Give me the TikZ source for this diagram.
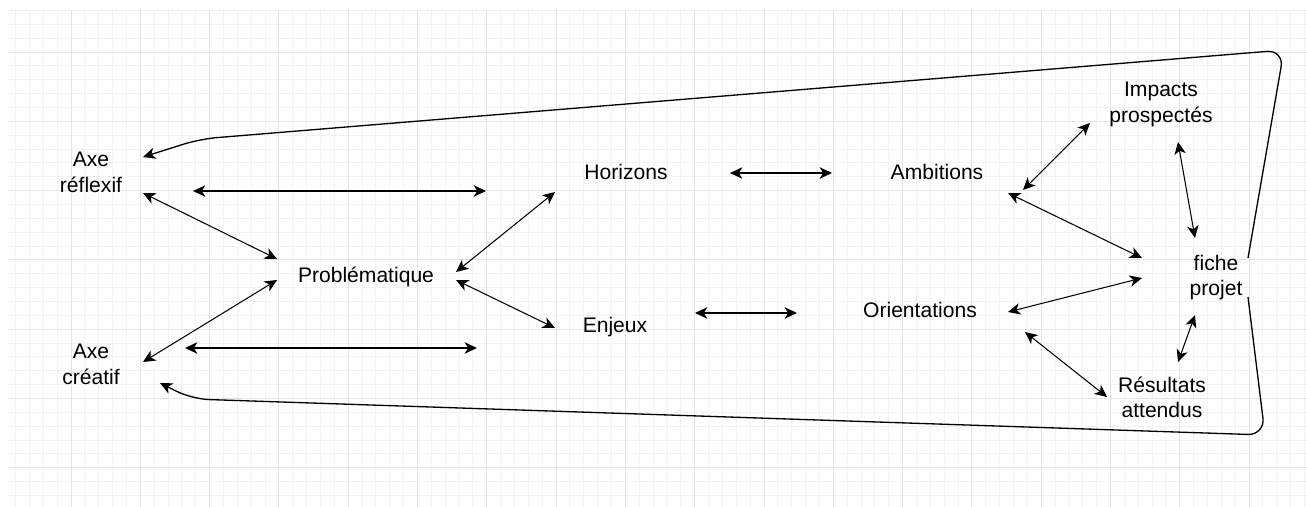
\documentclass[tikz,border=0pt]{standalone}
\usepackage{fontspec}
\setmainfont{Liberation Sans}
\usetikzlibrary{arrows.meta,calc}

\tikzset{
  lbl/.style={font=\fontsize{12}{14.5}\selectfont, align=center, inner sep=0pt, text=black},
  link/.style={<->, >={Stealth[length=7pt,width=6.5pt,inset=2pt]}, line width=0.6pt},
  hlink/.style={link, line width=0.9pt},
  backlink/.style={->, >={Stealth[length=7pt,width=6.5pt,inset=2pt]}, line width=0.75pt},
  minorgrid/.style={line width=0.55pt, draw=black!5},
  majorgrid/.style={line width=0.55pt, draw=black!11}
}

\begin{document}
\begin{tikzpicture}[x=0.02cm,y=-0.02cm]
\useasboundingbox (0,0) rectangle (1306,507);

%Grid background
\begin{scope}
\clip (8,10) rectangle (1306,507);
\foreach \i in {1,...,94} \draw[minorgrid] ({1.7+13.86*\i},10) -- ({1.7+13.86*\i},507);
\foreach \j in {2,...,37} \draw[minorgrid] (8,{-17.3+13.86*\j}) -- (1306,{-17.3+13.86*\j});
\foreach \i in {1,...,18} \draw[majorgrid] ({1.7+69.3*\i},10) -- ({1.7+69.3*\i},507);
\foreach \j in {1,...,7} \draw[majorgrid] (8,{-17.3+69.3*\j}) -- (1306,{-17.3+69.3*\j});
\end{scope}

%Axes
\node[lbl] (axeR) at (91,172.5) {Axe\\réflexif};
\node[lbl] (axeC) at (91,364.5) {Axe\\créatif};

%Problematique
\node[lbl] (prob) at (366,276.5) {Problématique};

%Horizons and Enjeux
\node[lbl] (hor) at (626,172) {Horizons};
\node[lbl] (enj) at (615,327) {Enjeux};

%Ambitions and Orientations
\node[lbl] (amb) at (937,172) {Ambitions};
\node[lbl] (ori) at (920,310) {Orientations};

%Right column
\node[lbl] (imp) at (1161,104.5) {Impacts\\prospectés};
\node[lbl] (fiche) at (1216,277.5) {fiche\\projet};
\node[lbl] (res) at (1162,397.5) {Résultats\\attendus};

%Axes <-> Problematique
\draw[link] ($(axeR)+(52,20.5)$) -- ($(prob)+(-89,-17.5)$);
\draw[link] ($(axeC)+(52,-2.5)$) -- ($(prob)+(-89,3.5)$);

%Long horizontal links
\draw[hlink] ($(axeR)+(102,18.5)$) -- ($(hor)+(-140,19)$);
\draw[hlink] ($(axeC)+(94,-16.5)$) -- ($(enj)+(-138,21)$);

%Problematique <-> Horizons, Enjeux
\draw[link] ($(prob)+(90,-4.5)$) -- ($(hor)+(-71,20)$);
\draw[link] ($(prob)+(90,3.5)$) -- ($(enj)+(-60,1)$);

%Short horizontal links
\draw[hlink] ($(hor)+(104,1)$) -- ($(amb)+(-105,1)$);
\draw[hlink] ($(enj)+(80,-14)$) -- ($(ori)+(-123,3)$);

%Ambitions, Orientations <-> right column
\draw[link] ($(amb)+(86,18)$) -- ($(imp)+(-71,18.5)$);
\draw[link] ($(amb)+(71,21)$) -- ($(fiche)+(-74,-19.5)$);
\draw[link] ($(ori)+(88,2)$) -- ($(fiche)+(-74,0.5)$);
\draw[link] ($(ori)+(105,22)$) -- ($(res)+(-55,-0.5)$);

%Right column links
\draw[link] ($(imp)+(17,37.5)$) -- ($(fiche)+(-21,-39.5)$);
\draw[link] ($(fiche)+(-21,37.5)$) -- ($(res)+(16,-35.5)$);

%Return loops
\draw[backlink,rounded corners=0.34cm] ($(fiche)+(32,-19.5)$) -- (1284,50) -- (200,139) -- ($(axeR)+(52,-15.5)$);
\draw[backlink,rounded corners=0.34cm] ($(fiche)+(32,19.5)$) -- (1265,435) -- (192,399) -- ($(axeC)+(69,18.5)$);

\end{tikzpicture}
\end{document}
